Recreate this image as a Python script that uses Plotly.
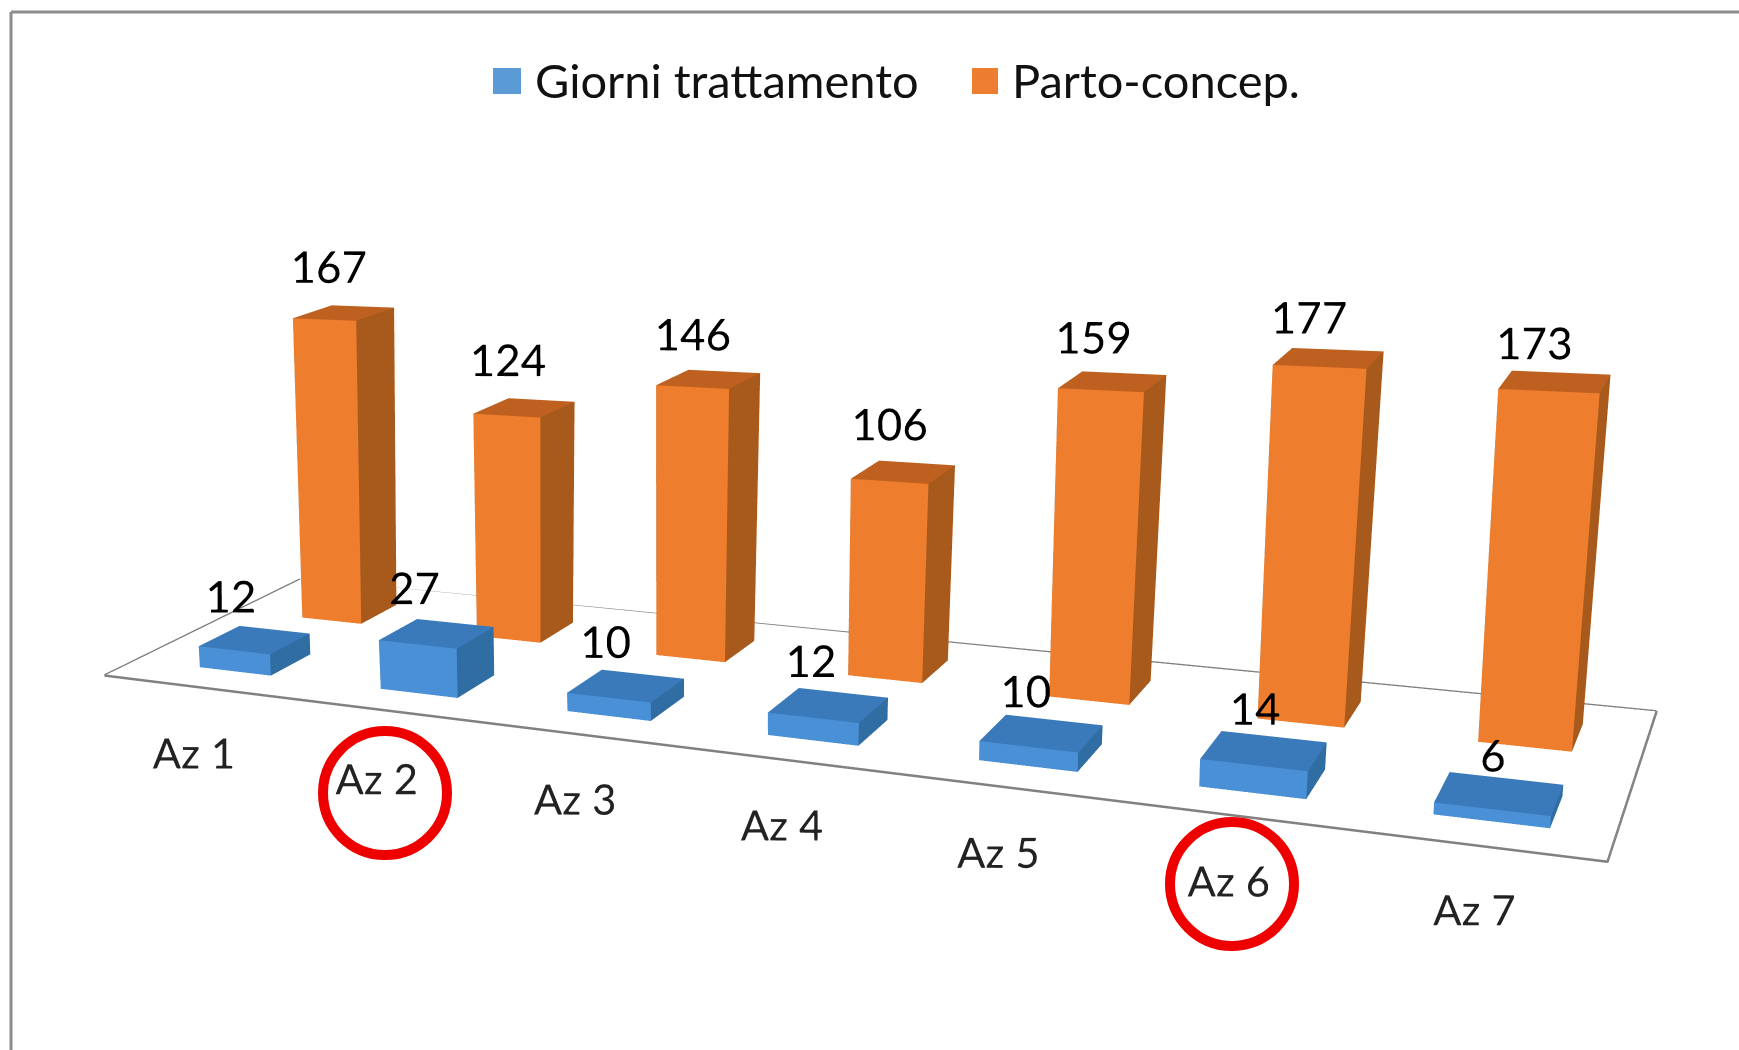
import plotly.graph_objects as go

categories = ["Az 1", "Az 2", "Az 3", "Az 4", "Az 5", "Az 6", "Az 7"]
giorni = [12, 27, 10, 12, 10, 14, 6]
parto = [167, 124, 146, 106, 159, 177, 173]

FONT = "Lato"
ZMAX = 215
W, H = 1739, 1800
SLOT_X = [0.61, 1.68, 2.70, 3.71, 4.69, 5.63, 6.55]
LABEL_X = [1.115, 2.095, 3.035, 3.97, 4.87, 5.755, 6.62]
LABEL_Y = [-0.90, -0.90, -0.82, -0.79, -0.77, -0.74, -0.69]
BLUE_DX = [-0.09, -0.085, -0.075, -0.065, -0.06, -0.035, -0.035]
BLUE_LIFT = [24, 24, 22.5, 22, 20, 19.5, 17]
ORANGE_DX = [-0.04, -0.05, -0.055, -0.05, -0.08, -0.08, -0.085]
ORANGE_LIFT = [24, 25, 22, 23.5, 20, 17.5, 16]
LEAN = 0.00029
PIVOT = 6.1
KEY = 0.09
GAIN = 1.025


def top_x(c, z):
    return LEAN * (PIVOT - c) * z


def top_z(c, z):
    return GAIN * z * (1 - KEY * (c - 0.5) / 6)


def bars(values, y0, y1, half, front, side, top, name):
    xs, ys, zs, i, j, k, fc = [], [], [], [], [], [], []
    for c, v in zip(SLOT_X, values):
        b = len(xs)
        for z in (0, v):
            for x, y in ((c - half, y0), (c + half, y0), (c + half, y1), (c - half, y1)):
                xs.append(x + top_x(c, z)); ys.append(y); zs.append(top_z(c, z))
        faces = [
            ((0, 1, 5), front), ((0, 5, 4), front),
            ((1, 2, 6), side), ((1, 6, 5), side),
            ((4, 5, 6), top), ((4, 6, 7), top),
            ((0, 3, 7), side), ((0, 7, 4), side),
            ((3, 2, 6), front), ((3, 6, 7), front),
        ]
        for (a, d, e), col in faces:
            i.append(b + a); j.append(b + d); k.append(b + e); fc.append(col)
    return go.Mesh3d(x=xs, y=ys, z=zs, i=i, j=j, k=k, facecolor=fc, flatshading=True,
                     lighting=dict(ambient=1, diffuse=0, specular=0, fresnel=0),
                     hoverinfo="skip", name=name, showlegend=False)


def value_text(values, y, dx, lift):
    return go.Scatter3d(
        x=[c + d + top_x(c, v) for c, d, v in zip(SLOT_X, dx, values)], y=[y] * len(values),
        z=[top_z(c, v) + l for c, l, v in zip(SLOT_X, lift, values)], mode="text", textposition="middle center",
        text=[str(v) for v in values], textfont=dict(family=FONT, size=44, color="#000000"),
        hoverinfo="skip", showlegend=False)


fig = go.Figure()
fig.add_trace(go.Mesh3d(x=[0, 7, 7, 0], y=[0, 0, 2, 2], z=[0, 0, 0, 0], i=[0, 0], j=[1, 2], k=[2, 3],
                        color="white", lighting=dict(ambient=1, diffuse=0, specular=0), hoverinfo="skip"))
fig.add_trace(go.Scatter3d(x=[0, 7, 7, 0, 0], y=[0, 0, 2, 2, 0], z=[0, 0, 0, 0, 0], mode="lines",
                           line=dict(color="#808080", width=5), hoverinfo="skip", showlegend=False))
fig.add_trace(bars(giorni, 0.3, 0.7, 0.215, "#4A90D6", "#2F6DA3", "#3A7ABB", "Giorni trattamento"))
fig.add_trace(bars(parto, 1.3, 1.7, 0.185, "#EE7D2E", "#A85A1C", "#BE6020", "Parto-concep."))

fig.add_trace(go.Scatter3d(x=LABEL_X, y=LABEL_Y, z=[0] * 7, mode="text", text=categories,
                           textposition="middle center",
                           textfont=dict(family=FONT, size=42, color="#222222"), hoverinfo="skip", showlegend=False))
fig.add_trace(value_text(giorni, 0.5, BLUE_DX, BLUE_LIFT))
fig.add_trace(value_text(parto, 1.5, ORANGE_DX, ORANGE_LIFT))

fig.add_trace(go.Scatter(x=[None], y=[None], mode="markers", name="Giorni trattamento",
                         marker=dict(symbol="square", size=16, color="#5B9BD5")))
fig.add_trace(go.Scatter(x=[None], y=[None], mode="markers", name="Parto-concep.",
                         marker=dict(symbol="square", size=16, color="#ED7D31")))

ax = dict(visible=False, showgrid=False, zeroline=False, showticklabels=False, showbackground=False,
          showspikes=False, title="")


def py(y):
    return 1 - y / H


def px(x):
    return x / W


fig.update_layout(
    width=W, height=H, margin=dict(l=0, r=0, t=0, b=0), paper_bgcolor="white", plot_bgcolor="white",
    font=dict(family=FONT, color="#111111"),
    xaxis=dict(visible=False), yaxis=dict(visible=False),
    legend=dict(orientation="h", x=px(477), xanchor="left", y=py(43), yanchor="top", itemwidth=48,
                entrywidth=414, entrywidthmode="pixels",
                font=dict(family=FONT, size=47, color="#111111"), bgcolor="rgba(0,0,0,0)"),
    scene=dict(
        domain=dict(x=[0, 1], y=[0, 1]),
        xaxis=dict(range=[0, 7], **ax), yaxis=dict(range=[-1.6, 2], **ax), zaxis=dict(range=[0, ZMAX], **ax),
        aspectmode="manual", aspectratio=dict(x=2.6, y=1.025, z=0.715),
        camera=dict(eye=dict(x=1.538, y=-2.835, z=0.9365), center=dict(x=0.399, y=-0.4671, z=-0.3575),
                    up=dict(x=-0.135, y=0.4215, z=0.896)),
        bgcolor="rgba(0,0,0,0)",
    ),
    shapes=[
        dict(type="line", xref="paper", yref="paper", x0=px(11), x1=1, y0=py(12), y1=py(12),
             line=dict(color="#8c8c8c", width=3)),
        dict(type="line", xref="paper", yref="paper", x0=px(11), x1=px(11), y0=py(12), y1=py(1050),
             line=dict(color="#8c8c8c", width=3)),
        dict(type="rect", xref="paper", yref="paper", x0=px(493), x1=px(521), y0=py(94), y1=py(68),
             line=dict(width=0), fillcolor="#5B9BD5"),
        dict(type="rect", xref="paper", yref="paper", x0=px(972), x1=px(998), y0=py(94), y1=py(68),
             line=dict(width=0), fillcolor="#ED7D31"),
        dict(type="circle", xref="paper", yref="paper", x0=px(323), x1=px(447), y0=py(855),
             y1=py(731), line=dict(color="#EE0000", width=10)),
        dict(type="circle", xref="paper", yref="paper", x0=px(1170), x1=px(1294), y0=py(946),
             y1=py(822), line=dict(color="#EE0000", width=10)),
    ],
)
fig.write_html("out.html", config=dict(displayModeBar=False),
               post_script="document.body.style.margin='0';document.documentElement.style.overflow='hidden';")
